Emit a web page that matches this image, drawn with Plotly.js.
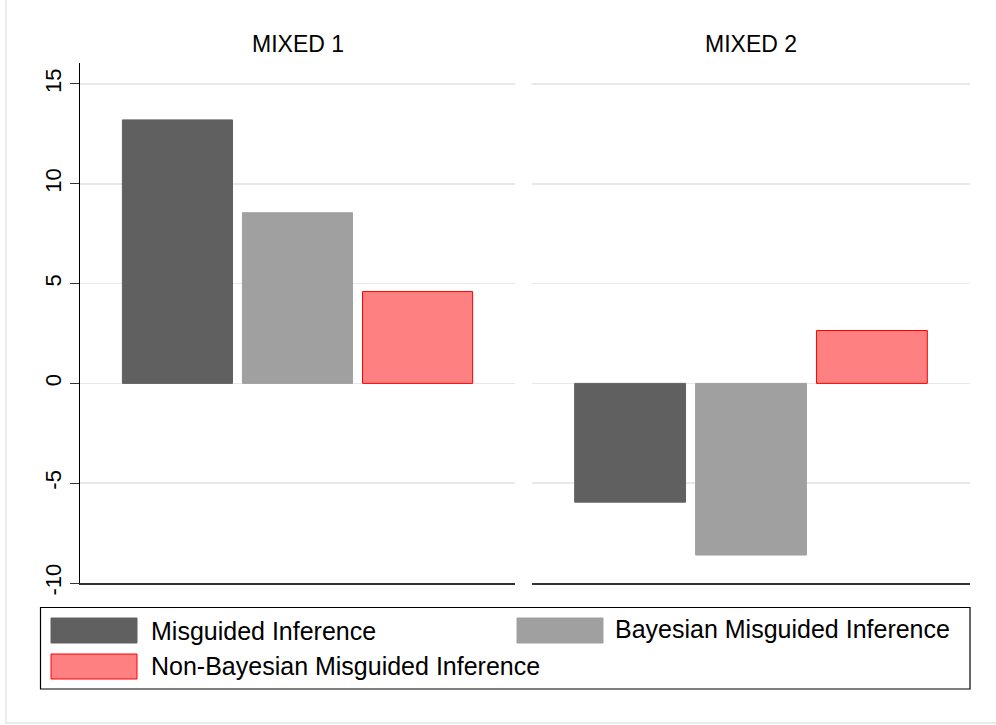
<!DOCTYPE html>
<html>
<head>
<meta charset="utf-8">
<script src="https://cdn.plot.ly/plotly-3.0.1.min.js"></script>
<style>html,body{margin:0;padding:0;background:#fff;}#chart{width:996px;height:725px;}</style>
</head>
<body>
<div id="chart"></div>
<script>
const panels = ['MIXED 1', 'MIXED 2'];
const seriesNames = ['Misguided Inference', 'Bayesian Misguided Inference', 'Non-Bayesian Misguided Inference'];
const misguided = [13.2, -5.95];
const bayesian = [8.55, -8.6];
const nonBayesian = [4.6, 2.65];
const yTicks = [-10, -5, 0, 5, 10, 15];
const yTickText = ['-10', '-5', '0', '5', '10', '15'];

const seriesValues = [misguided, bayesian, nonBayesian];
const fills = ['#606060', '#a0a0a0', '#ff8080'];
const borders = ['#606060', '#a0a0a0', '#ff0000'];
const FONT = '"Liberation Sans", Arial, Helvetica, sans-serif';

// layout geometry in pixels
const W = 996, H = 725, L = 80, R = 26, T = 63, B = 142;
const PW = W - L - R, PH = H - T - B;
const px = v => (v - L) / PW;
const py = v => (H - B - v) / PH;

const traces = [];
seriesValues.forEach((vals, s) => {
  panels.forEach((p, i) => {
    traces.push({
      type: 'bar',
      name: seriesNames[s],
      x: [p],
      y: [vals[i]],
      xaxis: i === 0 ? 'x' : 'x2',
      yaxis: i === 0 ? 'y' : 'y2',
      marker: {color: fills[s], line: {color: borders[s], width: 1}},
      showlegend: false,
      hoverinfo: 'y'
    });
  });
});

const shapes = [];
const annotations = [];

// outer graph region border
shapes.push({type: 'rect', xref: 'paper', yref: 'paper', x0: px(6), x1: px(1010), y0: py(723), y1: py(-10),
  line: {color: '#ebebeb', width: 2}, fillcolor: 'rgba(0,0,0,0)', layer: 'below'});

// legend box
shapes.push({type: 'rect', xref: 'paper', yref: 'paper', x0: px(40.5), x1: px(970), y0: py(689), y1: py(607.5),
  line: {color: '#000', width: 1.2}, fillcolor: 'rgba(0,0,0,0)'});

const legendPos = [
  {sx0: 51, sx1: 137, sy0: 618, sy1: 643, tx: 149, ty: 631},
  {sx0: 517, sx1: 603, sy0: 618, sy1: 643, tx: 613, ty: 629},
  {sx0: 51, sx1: 137, sy0: 654, sy1: 679, tx: 149, ty: 666}
];
seriesNames.forEach((n, s) => {
  const p = legendPos[s];
  shapes.push({type: 'rect', xref: 'paper', yref: 'paper', x0: px(p.sx0), x1: px(p.sx1), y0: py(p.sy1), y1: py(p.sy0),
    fillcolor: fills[s], line: {color: borders[s], width: 1}});
  annotations.push({xref: 'paper', yref: 'paper', x: px(p.tx), y: py(p.ty), xanchor: 'left', yanchor: 'middle',
    text: n, showarrow: false, font: {family: FONT, size: 25, color: '#000'}});
});

const dom1 = [0, px(515)];
const dom2 = [px(532), 1];
panels.forEach((p, i) => {
  const d = i === 0 ? dom1 : dom2;
  annotations.push({xref: 'paper', yref: 'paper', x: (d[0] + d[1]) / 2, y: py(44), xanchor: 'center', yanchor: 'middle',
    text: p, showarrow: false, font: {family: FONT, size: 23, color: '#000'}});
});

const layout = {
  width: W, height: H,
  margin: {l: L, r: R, t: T, b: B, pad: 0},
  paper_bgcolor: '#fff', plot_bgcolor: '#fff',
  font: {family: FONT, color: '#000'},
  barmode: 'group', bargap: 0.172, bargroupgap: 0.083,
  showlegend: false,
  xaxis: {domain: dom1, anchor: 'y', type: 'category', showticklabels: false, ticks: '', showgrid: false,
    showline: true, linecolor: '#333', linewidth: 1.5, zeroline: false, fixedrange: true},
  xaxis2: {domain: dom2, anchor: 'y2', type: 'category', showticklabels: false, ticks: '', showgrid: false,
    showline: true, linecolor: '#333', linewidth: 1.5, zeroline: false, fixedrange: true},
  yaxis: {domain: [0, 1], anchor: 'x', range: [-10, 16.05], tickvals: yTicks, ticktext: yTickText, tickangle: -90,
    tickfont: {family: FONT, size: 22, color: '#000'}, ticks: 'outside', ticklen: 9, tickcolor: '#333', tickwidth: 1,
    showline: true, linecolor: '#000', linewidth: 1.2, showgrid: true, gridcolor: '#e8e8e8', gridwidth: 1.5,
    zeroline: false, fixedrange: true},
  yaxis2: {domain: [0, 1], anchor: 'x2', matches: 'y', range: [-10, 16.05], tickvals: yTicks, showticklabels: false,
    ticks: '', showline: false, showgrid: true, gridcolor: '#e8e8e8', gridwidth: 1.5, zeroline: false, fixedrange: true},
  shapes: shapes,
  annotations: annotations
};

Plotly.newPlot('chart', traces, layout, {displayModeBar: false, staticPlot: true});
</script>
</body>
</html>
